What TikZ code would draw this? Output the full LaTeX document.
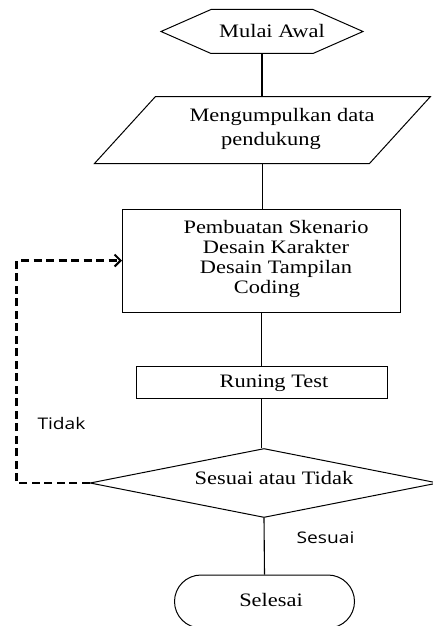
\documentclass[tikz,border=0pt]{standalone}
\usepackage{fontspec}
\setmainfont{Liberation Serif}[FakeStretch=1.18]
\newfontfamily\lblfont{Open Sans}[FakeStretch=1.2]
\usetikzlibrary{shapes.geometric,shapes.misc,arrows.meta}
\begin{document}
\begin{tikzpicture}[x=1pt,y=-1pt,
  line width=1pt,
  txt/.style={inner sep=0pt,font=\fontsize{19}{20}\selectfont,align=center},
  box/.style={draw=none,inner sep=0pt},
  rectbox/.style={draw,inner sep=0pt},
  lbl/.style={inner sep=0pt,font=\lblfont\fontsize{16}{18}\selectfont},
  flow/.style={line width=1.1pt},
  loopline/.style={line width=2.4pt,dash pattern=on 8pt off 4.5pt,-{Straight Barb[length=6pt,width=12pt,line width=2pt]}}
]
\useasboundingbox (0,0) rectangle (432,626);

% start hexagon
\node[box,minimum width=201pt,minimum height=43pt] (start) at (262,31.5) {};
\draw (start.west) -- ([xshift=50pt]start.north west) -- ([xshift=-50pt]start.north east)
  -- (start.east) -- ([xshift=-50pt]start.south east) -- ([xshift=50pt]start.south west) -- cycle;
\node[txt] (startT) at (272,31.5) {Mulai Awal};

% data parallelogram
\node[box,minimum width=335pt,minimum height=66pt] (data) at (262.5,130) {};
\draw ([xshift=61pt]data.north west) -- (data.north east) -- ([xshift=-61pt]data.south east)
  -- (data.south west) -- cycle;
\node[txt,font=\fontsize{19}{24}\selectfont] (dataT) at (282,128.5) {Mengumpulkan data\\pendukung\hspace*{22pt}};

% process rectangle
\node[rectbox,minimum width=278pt,minimum height=103pt] (proc) at (261.5,260.5) {};
\node[txt] (procT) at (276,259) {Pembuatan Skenario\\Desain Karakter\\Desain Tampilan\\Coding\hspace*{18pt}};

% running test
\node[rectbox,minimum width=251pt,minimum height=32pt] (run) at (261.5,382) {};
\node[txt] (runT) at (274,383) {Runing Test};

% decision
\node[diamond,draw,inner sep=0pt,minimum width=348pt,minimum height=69pt] (dec) at (264,483) {};
\node[txt] (decT) at (274,478) {Sesuai atau Tidak};

% end
\node[rounded rectangle,draw,inner sep=0pt,minimum width=180pt,minimum height=53pt] (end) at (264.5,601.5) {};
\node[txt] (endT) at (271,600) {Selesai};

% connectors
\draw[flow] (start.south) -- (start.south |- data.north);
\draw[flow] (data.south) -- (data.south |- proc.north);
\draw[flow] (proc.south) -- (proc.south |- run.north);
\draw[flow] (run.south) -- (run.south |- dec.north);
\draw[flow] (dec.south) -- (end.north);
\draw[loopline] (dec.west) -- ++(-73,0) |- (proc.west);

% labels
\node[lbl] (tidak) at (61.5,423) {Tidak};
\node[lbl] (sesuai) at (325.5,538) {Sesuai};
\end{tikzpicture}
\end{document}
